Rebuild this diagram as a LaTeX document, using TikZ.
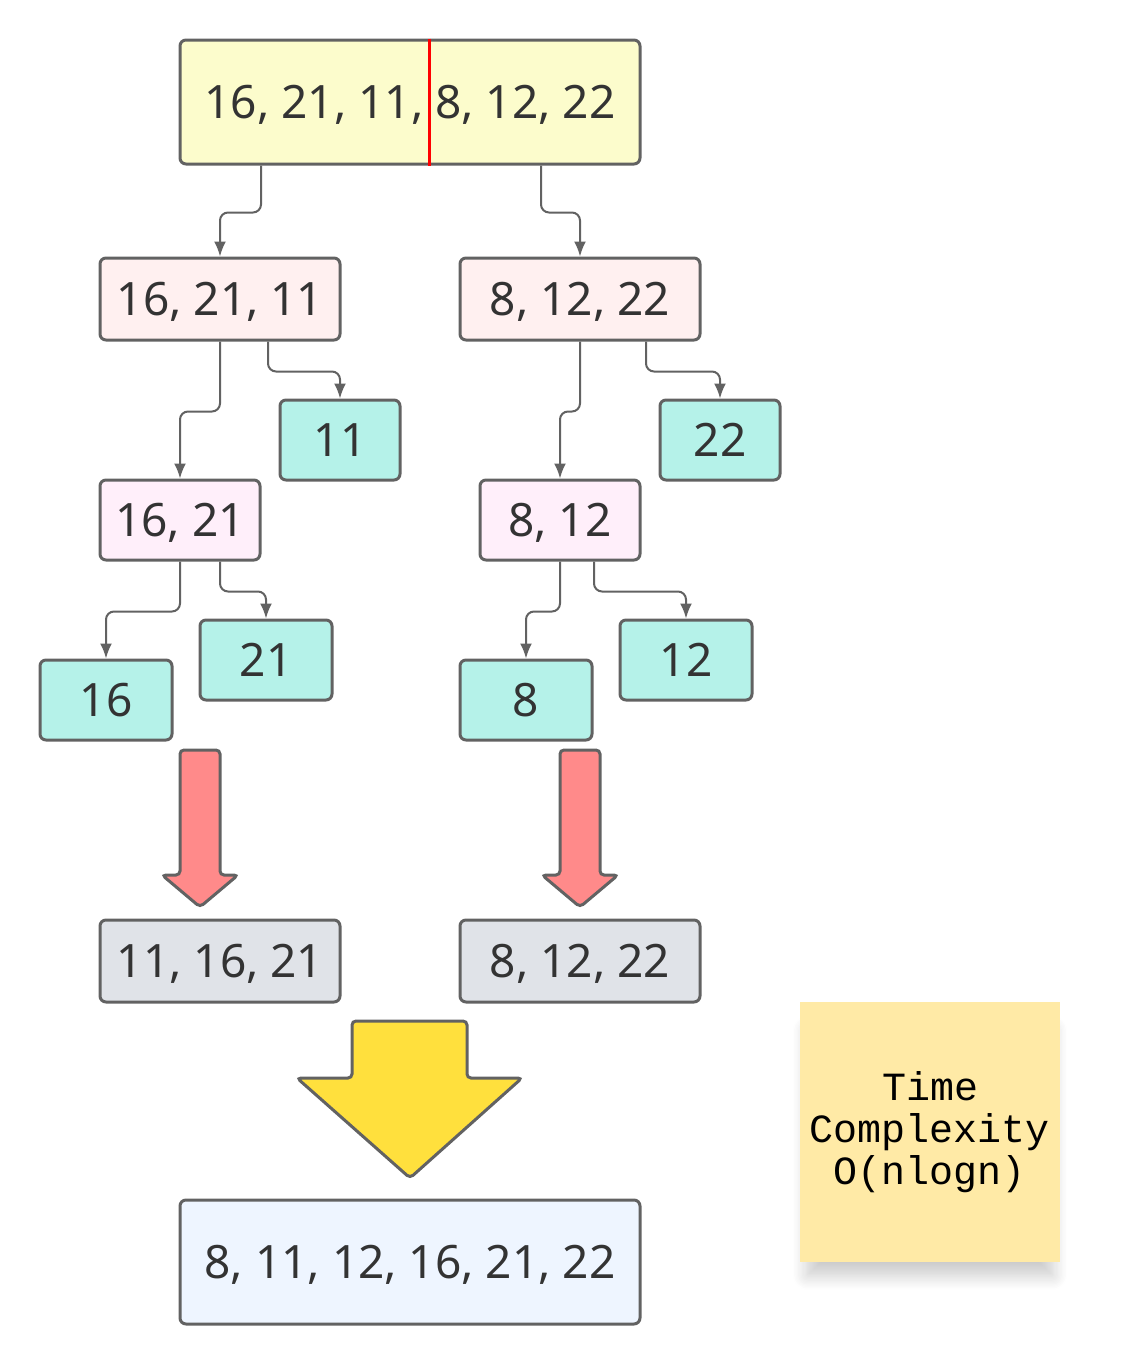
\documentclass[tikz,border=0pt]{standalone}
\usepackage{fontspec}
\setmainfont{Noto Sans}
\newfontfamily\notefont{Liberation Mono}
\usepackage{xcolor}
\usetikzlibrary{arrows.meta,shadows.blur}
\definecolor{edgegray}{HTML}{626262}
\definecolor{txtgray}{HTML}{333333}
\definecolor{startfill}{HTML}{FCFCCC}
\definecolor{halffill}{HTML}{FFF0F0}
\definecolor{pairfill}{HTML}{FFEFFA}
\definecolor{leaffill}{HTML}{B5F2E9}
\definecolor{mergefill}{HTML}{E0E3E8}
\definecolor{donefill}{HTML}{EEF5FF}
\definecolor{notefill}{HTML}{FFEAA6}
\definecolor{redarrow}{HTML}{FF8A8A}
\definecolor{yellowarrow}{HTML}{FFE03D}

\begin{document}
\begin{tikzpicture}[x=1pt,y=-1pt,
   every node/.style={text=txtgray, font=\fontsize{46}{50}\selectfont},
   box/.style={draw=edgegray, line width=3pt, rounded corners=6pt, inner sep=0pt,
               text height=33pt, text depth=0pt},
   leaf/.style={box, fill=leaffill, minimum width=120pt, minimum height=80pt},
   link/.style={draw=edgegray, line width=2pt, rounded corners=8pt,
                -{Latex[length=15pt,width=12pt]}},
   bigarrow/.style={draw=edgegray, line width=3pt, rounded corners=4pt}]
   \useasboundingbox (0,0) rectangle (1132,1365);
   % split
   \node[box, fill=startfill, minimum width=460pt, minimum height=124pt] (all) at (410,102) {16, 21, 11, 8, 12, 22};
   \draw[red, line width=3pt] ([xshift=19pt]all.north) -- ([xshift=19pt]all.south);
   \node[box, fill=halffill, minimum width=240pt, minimum height=82pt] (lhalf) at (220,299) {16, 21, 11};
   \node[box, fill=halffill, minimum width=240pt, minimum height=82pt] (rhalf) at (580,299) {8, 12, 22};
   \node[leaf] (l11) at (340,440) {11};
   \node[leaf] (l22) at (720,440) {22};
   \node[box, fill=pairfill, minimum width=160pt, minimum height=80pt] (lpair) at (180,520) {16, 21};
   \node[box, fill=pairfill, minimum width=160pt, minimum height=80pt] (rpair) at (560,520) {8, 12};
   \node[leaf, minimum width=132pt] (l16) at (106,700) {16};
   \node[leaf, minimum width=132pt] (l21) at (266,660) {21};
   \node[leaf, minimum width=132pt] (l8) at (526,700) {8};
   \node[leaf, minimum width=132pt] (l12) at (686,660) {12};
   \draw[link] ([xshift=-149pt]all.south) -- ++(0,47) -| (lhalf.north);
   \draw[link] ([xshift=131pt]all.south) -- ++(0,47) -| (rhalf.north);
   \draw[link] (lhalf.south) -- ++(0,70) -| (lpair.north);
   \draw[link] ([xshift=48pt]lhalf.south) -- ++(0,30) -| (l11.north);
   \draw[link] (rhalf.south) -- ++(0,70) -| (rpair.north);
   \draw[link] ([xshift=66pt]rhalf.south) -- ++(0,30) -| (l22.north);
   \draw[link] (lpair.south) -- ++(0,50) -| (l16.north);
   \draw[link] ([xshift=40pt]lpair.south) -- ++(0,30) -| (l21.north);
   \draw[link] (rpair.south) -- ++(0,50) -| (l8.north);
   \draw[link] ([xshift=34pt]rpair.south) -- ++(0,30) -| (l12.north);
   % merge
   \draw[bigarrow, fill=redarrow] (180,750) -- (220,750) -- (220,875) -- (238,875) -- (200,907) -- (162,875) -- (180,875) -- cycle;
   \draw[bigarrow, fill=redarrow] (560,750) -- (600,750) -- (600,875) -- (618,875) -- (580,907) -- (542,875) -- (560,875) -- cycle;
   \node[box, fill=mergefill, minimum width=240pt, minimum height=82pt] (lmerge) at (220,961) {11, 16, 21};
   \node[box, fill=mergefill, minimum width=240pt, minimum height=82pt] (rmerge) at (580,961) {8, 12, 22};
   \draw[bigarrow, fill=yellowarrow] (352,1021) -- (467,1021) -- (467,1078) -- (522,1078) -- (410,1178) -- (297,1078) -- (352,1078) -- cycle;
   \node[box, fill=donefill, minimum width=460pt, minimum height=124pt] (sorted) at (410,1262) {8, 11, 12, 16, 21, 22};
   \node[fill=notefill, minimum width=260pt, minimum height=260pt, inner sep=0pt, align=center, text=black,
         font=\notefont\fontsize{40}{42}\selectfont,
         blur shadow={shadow xshift=0pt, shadow yshift=-22pt, shadow scale=0.94,
                      shadow blur radius=16pt, shadow blur steps=12, shadow opacity=22}]
         (cplx) at (930,1132) {Time\\Complexity\\O(nlogn)};
\end{tikzpicture}
\end{document}
